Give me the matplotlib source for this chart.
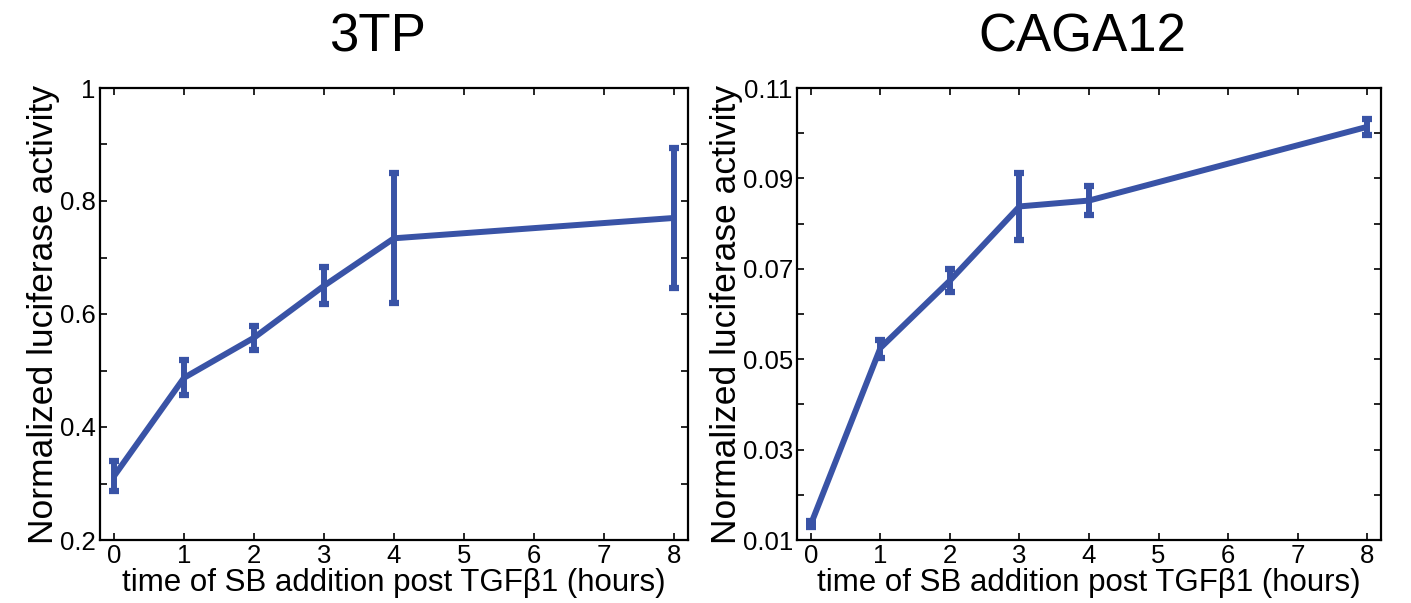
#!/usr/bin/env python3

# import modules
from matplotlib import pyplot as plt
import numpy as np

# data
hours = [0, 1, 2, 3, 4, 8]

tp3_mean = [0.313, 0.487, 0.558, 0.650, 0.734, 0.770]
tp3_low = [0.287, 0.456, 0.537, 0.617, 0.620, 0.646]
tp3_high = [0.339, 0.518, 0.579, 0.683, 0.849, 0.894]

caga_mean = [0.0135, 0.0525, 0.0674, 0.0838, 0.0851, 0.1014]
caga_low = [0.0129, 0.0503, 0.0648, 0.0763, 0.0819, 0.0997]
caga_high = [0.0141, 0.0543, 0.0700, 0.0912, 0.0884, 0.1031]

titles = ['3TP', 'CAGA12']
xlabel = 'time of SB addition post TGF\u03b21 (hours)'
ylabel = 'Normalized luciferase activity'

color = '#3953a6'

plt.rcParams['font.family'] = ['Liberation Sans', 'DejaVu Sans']

fig = plt.figure(figsize=(14.11, 6.03), dpi=100)
W, H = 1411, 603

panels = [
	dict(rect=[100, 63, 588, 452], mean=tp3_mean, low=tp3_low, high=tp3_high,
		ylim=(0.2, 1.0), major=np.arange(0.2, 1.01, 0.2), minor=np.arange(0.3, 1.0, 0.2),
		fmt=lambda v: '1' if abs(v - 1) < 1e-9 else '%.1f' % v, title_x=377),
	dict(rect=[797, 63, 584, 452], mean=caga_mean, low=caga_low, high=caga_high,
		ylim=(0.01, 0.11), major=np.arange(0.01, 0.111, 0.02), minor=np.arange(0.02, 0.11, 0.02),
		fmt=lambda v: '%.2f' % v, title_x=1082),
]

for title, p in zip(titles, panels):
	x0, y0, w, h = p['rect']
	ax = fig.add_axes([x0 / W, y0 / H, w / W, h / H])
	mean = np.array(p['mean'])
	err = [mean - np.array(p['low']), np.array(p['high']) - mean]
	ax.errorbar(hours, mean, yerr=err, color=color, lw=4.3, elinewidth=4.3,
		capsize=3.5, capthick=4.5, solid_capstyle='butt')
	ax.set_xlim(-0.2, 8.2)
	ax.set_ylim(*p['ylim'])
	ax.set_xticks(range(9))
	ax.set_yticks(p['major'])
	ax.set_yticklabels([p['fmt'](v) for v in p['major']])
	ax.set_yticks(p['minor'], minor=True)
	ax.tick_params(which='both', direction='in', top=True, right=True, length=5, width=1.2,
		labelsize=18.5, pad=3)
	for s in ax.spines.values():
		s.set_linewidth(1.6)
	ax.set_xlabel(xlabel, fontsize=22.5, labelpad=0)
	ax.set_ylabel(ylabel, fontsize=25.5, labelpad=0)
	fig.text(p['title_x'] / W, 1 - 38 / H, title, fontsize=38, ha='center', va='center')

# write to disk
plt.savefig('out.png', dpi=100)
